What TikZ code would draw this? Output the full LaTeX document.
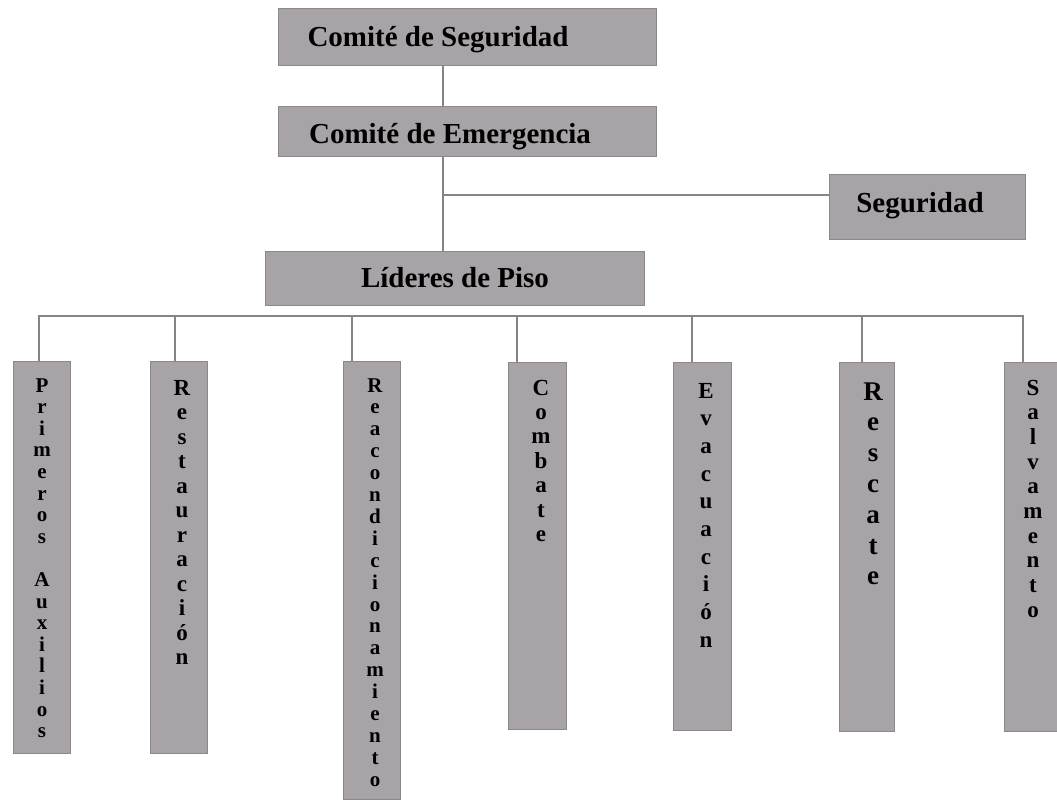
\documentclass[tikz,border=0pt]{standalone}
\usepackage{fontspec}
\setmainfont{Liberation Serif}
\definecolor{boxfill}{HTML}{A7A3A7}
\definecolor{boxedge}{HTML}{8C878C}
\definecolor{linec}{HTML}{858585}
% #1 name, #2 x, #3 first baseline y, #4 spacing, #5 font size, #6 letters
\newcommand\vletters[6]{%
  \foreach \ch [count=\k] in {#6}{%
    \node[vlet,font=\bfseries\fontsize{#5}{#5}\selectfont,anchor=base] (#1-\k) at (#2,{#3+(\k-1)*#4}) {\ch};}}
\begin{document}
\begin{tikzpicture}[x=1pt,y=-1pt,
  box/.style={draw=boxedge,fill=boxfill,line width=1pt,inner sep=0pt},
  toplab/.style={font=\bfseries\fontsize{29}{29}\selectfont,inner sep=0pt,anchor=base,text=black},
  vlet/.style={inner sep=0pt,text=black},
  conn/.style={draw=linec,line width=1.5pt}]
\useasboundingbox[fill=white] (0,0) rectangle (1057,800);
\clip (0,0) rectangle (1057,800);

% top boxes
\node[box,minimum width=378,minimum height=57] (cs) at (467,37.5) {};
\node[box,minimum width=378,minimum height=50] (ce) at (467,131) {};
\node[box,minimum width=196,minimum height=65] (seg) at (927,206.5) {};
\node[box,minimum width=379,minimum height=54] (ld) at (454.5,278) {};

\node[toplab] (cs-t) at (438,47) {Comité de Seguridad};
\node[toplab] (ce-t) at (450,143) {Comité de Emergencia};
\node[toplab] (seg-t) at (920,212) {Seguridad};
\node[toplab] (ld-t) at (455,287) {Líderes de Piso};

% vertical boxes
\node[box,minimum width=57,minimum height=392] (pa) at (41.5,557) {};
\node[box,minimum width=57,minimum height=392] (re) at (178.5,557) {};
\node[box,minimum width=57,minimum height=438] (rc) at (371.5,580) {};
\node[box,minimum width=58,minimum height=367] (co) at (537,545.5) {};
\node[box,minimum width=58,minimum height=368] (ev) at (702,546) {};
\node[box,minimum width=55,minimum height=369] (rs) at (866.5,546.5) {};
\node[box,minimum width=58,minimum height=369] (sa) at (1033,546.5) {};

% connectors
\coordinate (busy) at (0,316);
\coordinate (segy) at (0,195);
\draw[conn] (cs.south -| 443,0) -- (ce.north -| 443,0);
\draw[conn] (ce.south -| 443,0) -- (ld.north -| 443,0);
\draw[conn] (segy -| 443,0) -- (segy -| seg.west);
\draw[conn] ([xshift=-2.5]pa.north) -- ([xshift=-2.5]pa.north |- busy) -- ([xshift=-10]sa.north |- busy) -- ([xshift=-10]sa.north);
\draw[conn] ([xshift=-3.5]re.north |- busy) -- ([xshift=-3.5]re.north);
\draw[conn] ([xshift=-19.5]rc.north |- busy) -- ([xshift=-19.5]rc.north);
\draw[conn] ([xshift=-20]co.north |- busy) -- ([xshift=-20]co.north);
\draw[conn] ([xshift=-10]ev.north |- busy) -- ([xshift=-10]ev.north);
\draw[conn] ([xshift=-4.5]rs.north |- busy) -- ([xshift=-4.5]rs.north);

% vertical labels
\vletters{pa}{42}{392}{21.6}{21}{P,r,i,m,e,r,o,s}
\vletters{pb}{42}{586.4}{21.6}{21}{A,u,x,i,l,i,o,s}
\vletters{re}{182}{395}{24.5}{23}{R,e,s,t,a,u,r,a,c,i,ó,n}
\vletters{rc}{375}{392}{21.9}{21}{R,e,a,c,o,n,d,i,c,i,o,n,a,m,i,e,n,t,o}
\vletters{co}{541}{395}{24.4}{23}{C,o,m,b,a,t,e}
\vletters{ev}{706}{398}{27.7}{23}{E,v,a,c,u,a,c,i,ó,n}
\vletters{rs}{873}{400}{30.8}{27}{R,e,s,c,a,t,e}
\vletters{sa}{1033}{395}{24.7}{23}{S,a,l,v,a,m,e,n,t,o}
\end{tikzpicture}
\end{document}
